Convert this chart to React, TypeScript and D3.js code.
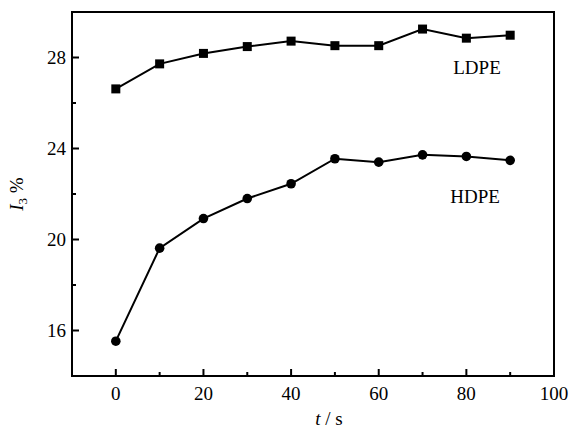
import { useEffect, useRef } from "react";
import * as d3 from "d3";

const times = [0, 10, 20, 30, 40, 50, 60, 70, 80, 90];
const ldpe = [26.62, 27.72, 28.18, 28.48, 28.72, 28.52, 28.52, 29.25, 28.85, 28.98];
const hdpe = [15.53, 19.62, 20.92, 21.8, 22.45, 23.55, 23.4, 23.72, 23.65, 23.48];
const xTicks = [0, 20, 40, 60, 80, 100];
const xMinor = [10, 30, 50, 70, 90];
const yTicks = [16, 20, 24, 28];
const yMinor = [18, 22, 26];

export default function App() {
  const ref = useRef<SVGSVGElement>(null);

  useEffect(() => {
    const svg = d3.select(ref.current);
    svg.selectAll("*").remove();

    const left = 72, right = 554, top = 12, bottom = 376;
    const font = "'Liberation Serif', 'Times New Roman', serif";
    const fs = 19;

    const x = d3.scaleLinear().domain([-10, 100]).range([left, right]);
    const y = d3.scaleLinear().domain([14, 30]).range([bottom, top]);

    // frame
    svg.append("rect")
      .attr("x", left).attr("y", top)
      .attr("width", right - left).attr("height", bottom - top)
      .attr("fill", "none").attr("stroke", "#000").attr("stroke-width", 2);

    // x ticks (inward)
    const gx = svg.append("g");
    xTicks.forEach((t) => {
      gx.append("line").attr("x1", x(t)).attr("x2", x(t))
        .attr("y1", bottom).attr("y2", bottom - 7)
        .attr("stroke", "#000").attr("stroke-width", 2);
      gx.append("text").attr("x", x(t)).attr("y", bottom + 24)
        .attr("text-anchor", "middle").attr("font-family", font)
        .attr("font-size", fs).text(t);
    });
    xMinor.forEach((t) => {
      gx.append("line").attr("x1", x(t)).attr("x2", x(t))
        .attr("y1", bottom).attr("y2", bottom - 4)
        .attr("stroke", "#000").attr("stroke-width", 2);
    });

    // y ticks (inward)
    const gy = svg.append("g");
    yTicks.forEach((t) => {
      gy.append("line").attr("x1", left).attr("x2", left + 7)
        .attr("y1", y(t)).attr("y2", y(t))
        .attr("stroke", "#000").attr("stroke-width", 2);
      gy.append("text").attr("x", left - 6).attr("y", y(t) + 6.5)
        .attr("text-anchor", "end").attr("font-family", font)
        .attr("font-size", fs).text(t);
    });
    yMinor.forEach((t) => {
      gy.append("line").attr("x1", left).attr("x2", left + 4)
        .attr("y1", y(t)).attr("y2", y(t))
        .attr("stroke", "#000").attr("stroke-width", 2);
    });

    const line = d3.line<number>()
      .x((_, i) => x(times[i]))
      .y((d) => y(d));

    // LDPE
    svg.append("path").datum(ldpe).attr("d", line)
      .attr("fill", "none").attr("stroke", "#000").attr("stroke-width", 2);
    svg.selectAll(".sq").data(ldpe).enter().append("rect")
      .attr("x", (_, i) => x(times[i]) - 4.5)
      .attr("y", (d) => y(d) - 4.5)
      .attr("width", 9).attr("height", 9).attr("fill", "#000");

    // HDPE
    svg.append("path").datum(hdpe).attr("d", line)
      .attr("fill", "none").attr("stroke", "#000").attr("stroke-width", 2);
    svg.selectAll(".ci").data(hdpe).enter().append("circle")
      .attr("cx", (_, i) => x(times[i]))
      .attr("cy", (d) => y(d))
      .attr("r", 4.8).attr("fill", "#000");

    // series labels
    svg.append("text").attr("x", 477).attr("y", 74)
      .attr("text-anchor", "middle").attr("font-family", font)
      .attr("font-size", fs).text("LDPE");
    svg.append("text").attr("x", 475).attr("y", 203)
      .attr("text-anchor", "middle").attr("font-family", font)
      .attr("font-size", fs).text("HDPE");

    // axis titles
    const xt = svg.append("text").attr("x", 329).attr("y", 425)
      .attr("text-anchor", "middle").attr("font-family", font).attr("font-size", fs);
    xt.append("tspan").attr("font-style", "italic").text("t");
    xt.append("tspan").text(" / s");

    const yt = svg.append("text")
      .attr("transform", `translate(23,194) rotate(-90)`)
      .attr("text-anchor", "middle").attr("font-family", font).attr("font-size", fs);
    yt.append("tspan").attr("font-style", "italic").text("I");
    yt.append("tspan").attr("font-size", 13).attr("dy", 4).text("3");
    yt.append("tspan").attr("dy", -4).text(" %");
  }, []);

  return (
    <svg
      ref={ref}
      width={573}
      height={433}
      style={{ position: "absolute", left: 0, top: 0, background: "#fff" }}
    />
  );
}
